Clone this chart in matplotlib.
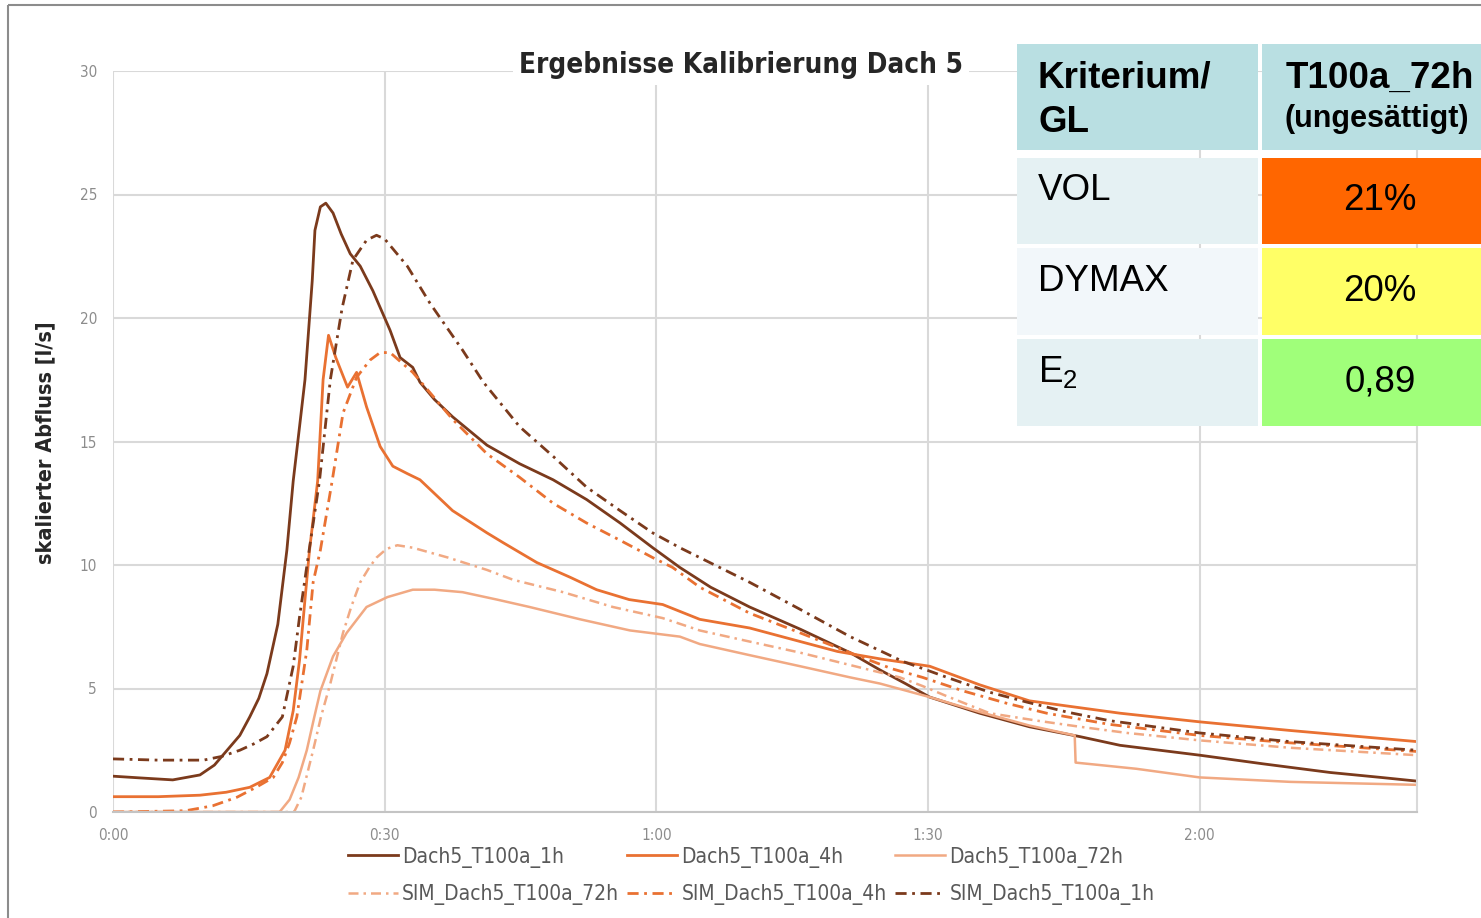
import matplotlib
matplotlib.use("Agg")
import matplotlib.pyplot as plt
from matplotlib.patches import Rectangle

# Ganglinien Dach 5, Zeit in Minuten, Abfluss in l/s
t_1h = [0, 3, 6.6, 9.6, 11.2, 12.6, 14.0, 15.1, 16.1, 17.0, 18.2, 19.2, 19.9, 20.6, 21.2, 22.0, 22.3,
        22.9, 23.5, 24.3, 25.2, 26.2, 27.3, 28.7, 30.6, 31.7, 33.1, 33.9, 35.5, 37.5, 41.3, 44.9,
        48.6, 52.3, 56.0, 59.6, 62.6, 66, 70.3, 75.9, 81.4, 84.7, 87.5, 90.2, 95.7, 101.2, 106.8,
        111.2, 120, 127, 134.4, 140, 144]
q_1h = [1.45, 1.38, 1.3, 1.5, 1.9, 2.5, 3.1, 3.85, 4.6, 5.6, 7.6, 10.6, 13.4, 15.6, 17.5, 21.5, 23.55,
        24.5, 24.65, 24.25, 23.4, 22.6, 22.1, 21.1, 19.5, 18.4, 18.0, 17.4, 16.7, 16.0, 14.85, 14.1,
        13.45, 12.65, 11.7, 10.7, 9.9, 9.1, 8.3, 7.4, 6.45, 5.75, 5.2, 4.65, 4.0, 3.45, 3.05,
        2.7, 2.3, 1.95, 1.6, 1.4, 1.25]

t_4h = [0, 5, 9.6, 12.5, 15.1, 17.3, 19.0, 19.9, 20.6, 21.2, 21.7, 22.6, 23.2, 23.8, 24.6, 25.9, 26.9,
        28.0, 29.5, 30.9, 32.5, 33.9, 37.5, 41.3, 43.1, 46.8, 50.5, 53.4, 57.0, 60.7, 64.8, 70.3,
        75.9, 80, 84.7, 90.2, 95.7, 101.2, 111.2, 120, 130, 144]
q_4h = [0.62, 0.62, 0.68, 0.8, 1.0, 1.4, 2.5, 4.1, 6.15, 8.6, 10.6, 13.4, 17.5, 19.3, 18.4, 17.2, 17.8,
        16.4, 14.8, 14.0, 13.7, 13.45, 12.2, 11.3, 10.9, 10.1, 9.5, 9.0, 8.6, 8.4, 7.8, 7.45,
        6.9, 6.5, 6.2, 5.9, 5.15, 4.5, 4.0, 3.65, 3.3, 2.85]

t_72h = [0, 18.4, 19.5, 20.5, 21.4, 22.2, 22.9, 24.3, 25.8, 28.0, 30.3, 33.1, 35.5, 38.6, 42.4, 46.0,
         51.6, 57.1, 62.6, 64.8, 70.3, 75.9, 81.4, 84.7, 90.2, 95.7, 101.2, 106.2, 106.3, 109, 113,
         120, 130, 144]
q_72h = [0, 0, 0.5, 1.4, 2.5, 3.8, 4.9, 6.3, 7.25, 8.3, 8.7, 9.0, 9.0, 8.9, 8.6, 8.3,
         7.8, 7.35, 7.1, 6.8, 6.35, 5.9, 5.45, 5.2, 4.65, 4.05, 3.5, 3.1, 2.0, 1.9, 1.75,
         1.4, 1.22, 1.1]

t_sim72h = [0, 20.0, 20.8, 22.1, 23.0, 24.0, 25.4, 26.3, 27.3, 28.3, 29.1, 30.2, 31.4, 33.1, 37.0,
            41.3, 44.2, 49.7, 55.2, 60.7, 64.8, 70.3, 75.9, 81.4, 86.9, 89.4, 92, 96.8, 102, 106.8,
            112, 120, 130, 144]
q_sim72h = [0, 0, 0.6, 2.5, 3.9, 5.2, 7.25, 8.3, 9.3, 9.9, 10.3, 10.65, 10.8, 10.7, 10.3,
            9.8, 9.4, 8.9, 8.3, 7.85, 7.35, 6.9, 6.45, 5.95, 5.45, 5.1, 4.7, 4.0, 3.7, 3.45,
            3.2, 2.9, 2.6, 2.3]

t_sim4h = [0, 8, 11, 13.7, 15.8, 17.7, 18.7, 19.5, 20.3, 21.4, 22.1, 22.9, 24.2, 25.4, 26.9, 28.4,
           29.5, 30.6, 33.1, 37.5, 41.3, 44.9, 48.6, 52.3, 56.0, 59.6, 61.8, 64.8, 70.3, 75.9, 81.4,
           86.0, 89.4, 93.9, 98.7, 103.1, 110, 120, 130, 144]
q_sim4h = [0, 0.05, 0.25, 0.6, 1.0, 1.4, 2.0, 2.8, 3.85, 6.55, 9.3, 10.6, 13.4, 16.15, 17.6, 18.3,
           18.6, 18.6, 17.8, 15.9, 14.5, 13.55, 12.5, 11.7, 11.0, 10.3, 9.9, 9.1, 8.05, 7.25, 6.45,
           5.8, 5.45, 4.9, 4.4, 4.0, 3.55, 3.1, 2.8, 2.45]

t_sim1h = [0, 5, 10, 12, 14, 15.5, 17, 18.7, 19.9, 20.6, 21.5, 22.8, 24.0, 25.3, 26.5, 28.0, 29.1,
           30.0, 32.5, 35.0, 38.6, 40.9, 44.9, 48.6, 52.3, 56.0, 59.6, 62.6, 64.8, 70.3, 75.9, 81.4,
           87.2, 92.1, 96.8, 100.9, 105.3, 110, 120, 130, 144]
q_sim1h = [2.15, 2.1, 2.1, 2.25, 2.5, 2.75, 3.05, 3.85, 5.9, 7.9, 10.2, 13.4, 17.5, 20.4, 22.35, 23.15,
           23.35, 23.2, 22.1, 20.6, 18.7, 17.4, 15.6, 14.4, 13.15, 12.2, 11.3, 10.7, 10.3, 9.3, 8.2,
           7.1, 6.1, 5.45, 4.85, 4.45, 4.05, 3.7, 3.2, 2.85, 2.5]

x_ticks = [0, 30, 60, 90, 120]
x_labels = ["0:00", "0:30", "1:00", "1:30", "2:00"]
y_ticks = [0, 5, 10, 15, 20, 25, 30]

# Tabelle Kalibrierungsgüte
crit_names = ["VOL", "DYMAX", "E$_2$"]
crit_values = ["21%", "20%", "0,89"]
crit_colors = ["#ff6600", "#ffff66", "#a0ff7a"]

dark = "#7b3a1c"
mid = "#e97132"
light = "#f1a983"
dashdot = (0, (4, 2, 1, 2))

plt.rcParams["mathtext.fontset"] = "custom"
plt.rcParams["mathtext.rm"] = "Liberation Sans"
narrow = dict(family="DejaVu Sans", stretch="condensed")

W, H = 1481, 918
fig = plt.figure(figsize=(W / 100, H / 100), dpi=100)
ax = fig.add_axes([113 / W, 1 - 812 / H, 1304 / W, 741 / H])

ax.plot(t_1h, q_1h, color=dark, lw=2.0, label="Dach5_T100a_1h")
ax.plot(t_sim72h, q_sim72h, color=light, lw=1.8, ls=dashdot, label="SIM_Dach5_T100a_72h")
ax.plot(t_4h, q_4h, color=mid, lw=2.0, label="Dach5_T100a_4h")
ax.plot(t_sim4h, q_sim4h, color=mid, lw=2.0, ls=dashdot, label="SIM_Dach5_T100a_4h")
ax.plot(t_72h, q_72h, color=light, lw=1.8, label="Dach5_T100a_72h")
ax.plot(t_sim1h, q_sim1h, color=dark, lw=2.0, ls=dashdot, label="SIM_Dach5_T100a_1h")

ax.set_xlim(0, 144)
ax.set_ylim(0, 30)
ax.set_xticks(x_ticks)
ax.set_xticklabels(x_labels)
ax.set_yticks(y_ticks)
ax.tick_params(length=0, labelsize=11, labelcolor="#8c8c8c")
ax.tick_params(axis="x", pad=11.5)
ax.tick_params(axis="y", pad=11.5)
for lab in ax.get_xticklabels() + ax.get_yticklabels():
    lab.set_fontstretch("condensed")
ax.grid(True, color="#d9d9d9", lw=1.5)
ax.set_axisbelow(True)
for side in ["top", "left"]:
    ax.spines[side].set_visible(False)
ax.spines["right"].set_color("#d9d9d9")
ax.spines["right"].set_linewidth(1.5)
ax.spines["bottom"].set_color("#c4c4c4")
ax.spines["bottom"].set_linewidth(1.5)

leg = fig.legend(*ax.get_legend_handles_labels(), ncol=3, loc="upper left",
                 bbox_to_anchor=(329 / W, 1 - 828 / H), frameon=False,
                 prop=dict(size=15, **narrow), handlelength=2.4, handletextpad=0.2,
                 columnspacing=0.4, labelspacing=0.8, labelcolor="#595959")

# Überlagerung in Pixelkoordinaten: Rahmen, Titel, Achsentitel, Tabelle
ov = fig.add_axes([0, 0, 1, 1], zorder=5)
ov.set_xlim(0, W)
ov.set_ylim(H, 0)
ov.axis("off")
ov.patch.set_alpha(0)

ov.add_patch(Rectangle((8, 5), 1600, 1000, fill=False, ec="#8c8c8c", lw=1.5))
ov.text(741, 65, "Ergebnisse Kalibrierung Dach 5", ha="center", va="center", fontsize=20,
        fontweight="bold", color="#262626", bbox=dict(fc="white", ec="none", pad=4), **narrow)
ov.text(45, 443, "skalierter Abfluss [l/s]", rotation=90, ha="center", va="center", fontsize=15.5,
        fontweight="bold", color="#262626", **narrow)

c1, c2, c2r = 1017, 1262, 1500
hdr_top, hdr_bot = 44, 150
rows = [(158, 244), (248, 335), (339, 426)]
col1_bg = ["#e5f1f3", "#f2f7fa", "#e5f1f3"]
tf = "Liberation Sans"

ov.add_patch(Rectangle((c1, hdr_top), 1258 - c1, hdr_bot - hdr_top, fc="#b9dfe2", ec="none"))
ov.add_patch(Rectangle((c2, hdr_top), c2r - c2, hdr_bot - hdr_top, fc="#b9dfe2", ec="none"))
ov.text(1038, 78, "Kriterium/", ha="left", va="center", fontsize=26.5, fontweight="bold", family=tf)
ov.text(1038, 122, "GL", ha="left", va="center", fontsize=26.5, fontweight="bold", family=tf)
ov.text(1380, 78, "T100a_72h", ha="center", va="center", fontsize=26.5, fontweight="bold", family=tf)
ov.text(1377, 119, "(ungesättigt)", ha="center", va="center", fontsize=22, fontweight="bold", family=tf)

for (top, bot), name, val, col, bg in zip(rows, crit_names, crit_values, crit_colors, col1_bg):
    ov.add_patch(Rectangle((c1, top), 1258 - c1, bot - top, fc=bg, ec="none"))
    ov.add_patch(Rectangle((c2, top), c2r - c2, bot - top, fc=col, ec="none"))
    ov.text(1038, (top + bot) / 2 - 10, name, ha="left", va="center", fontsize=26.5, family=tf)
    ov.text(1380, (top + bot) / 2, val, ha="center", va="center", fontsize=26.5, family=tf)

fig.savefig("out.png", dpi=100)
